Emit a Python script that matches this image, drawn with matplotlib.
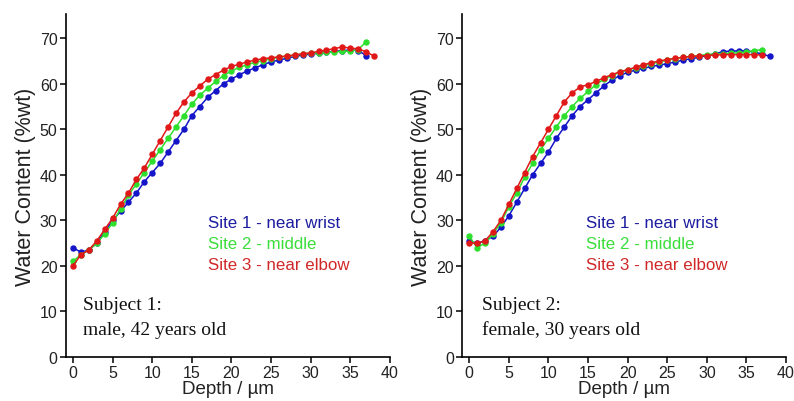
import matplotlib.pyplot as plt
import numpy as np

# depth in um (1 um steps)
depth = np.arange(0, 39)

# Subject 1: male, 42 years old
s1_site1 = [24.0, 23.0, 23.5, 25.0, 27.5, 30.0, 32.0, 34.0, 36.0, 38.5,
            40.5, 42.5, 45.0, 47.5, 50.0, 53.0, 55.0, 57.0, 58.5, 60.0,
            61.0, 62.0, 62.8, 63.5, 64.2, 64.8, 65.2, 65.6, 66.0, 66.3,
            66.5, 66.7, 66.9, 67.1, 67.3, 67.4, 67.3, 66.2]
s1_site2 = [21.0, 22.5, 23.5, 25.0, 27.0, 29.5, 32.5, 35.5, 38.0, 40.5,
            43.0, 45.5, 48.0, 50.5, 53.0, 55.5, 57.5, 59.0, 60.5, 61.8,
            62.8, 63.6, 64.2, 64.7, 65.1, 65.5, 65.8, 66.1, 66.3, 66.5,
            66.7, 66.8, 66.9, 67.0, 67.1, 67.2, 67.5, 69.2]
s1_site3 = [20.0, 22.5, 23.5, 25.5, 28.0, 30.5, 33.5, 36.0, 39.0, 41.5,
            44.5, 47.5, 50.5, 53.5, 56.0, 58.0, 59.5, 61.0, 62.0, 63.0,
            63.8, 64.3, 64.8, 65.2, 65.5, 65.7, 65.9, 66.1, 66.3, 66.6,
            66.8, 67.1, 67.4, 67.7, 68.1, 67.8, 67.7, 67.0, 66.1]

# Subject 2: female, 30 years old
s2_site1 = [25.5, 25.0, 25.5, 26.5, 28.5, 31.0, 34.0, 37.0, 40.0, 42.5,
            45.0, 48.0, 50.5, 53.0, 55.0, 56.5, 58.0, 59.5, 60.8, 61.8,
            62.5, 63.0, 63.4, 63.8, 64.1, 64.4, 64.8, 65.2, 65.5, 65.8,
            66.2, 66.6, 67.0, 67.2, 67.2, 67.2, 67.0, 66.5, 66.0]
s2_site2 = [26.5, 24.0, 25.0, 27.0, 29.5, 33.0, 36.0, 39.5, 42.5, 45.5,
            48.0, 50.5, 53.0, 55.0, 56.8, 58.3, 59.8, 61.0, 61.8, 62.5,
            63.0, 63.5, 64.0, 64.4, 64.8, 65.2, 65.5, 65.8, 66.0, 66.2,
            66.4, 66.5, 66.6, 66.7, 66.8, 66.9, 67.3, 67.5]
s2_site3 = [25.0, 25.0, 25.5, 27.5, 30.0, 33.5, 37.0, 40.5, 44.0, 47.0,
            50.0, 53.0, 56.0, 58.0, 59.3, 59.8, 60.5, 61.3, 62.0, 62.6,
            63.1, 63.6, 64.2, 64.6, 65.0, 65.3, 65.6, 65.8, 66.0, 66.1,
            66.2, 66.3, 66.4, 66.4, 66.4, 66.4, 66.4, 66.3]

site_labels = ['Site 1 - near wrist', 'Site 2 - middle', 'Site 3 - near elbow']
line_colors = ['#1414c8', '#2ee02e', '#e01818']
text_colors = ['#1c1ca0', '#3ade3a', '#d02828']

subjects = [
    ([s1_site1, s1_site2, s1_site3], 'Subject 1:', 'male, 42 years old', 17.0, 1.3),
    ([s2_site1, s2_site2, s2_site3], 'Subject 2:', 'female, 30 years old', 14.8, 1.6),
]

fig = plt.figure(figsize=(7.94, 4.02), dpi=100)
axes_pos = [[0.083, 0.1095, 0.408, 0.853], [0.582, 0.1095, 0.408, 0.853]]

for pos, (series, subj, desc, leg_x, subj_x) in zip(axes_pos, subjects):
    ax = fig.add_axes(pos)
    for vals, c in zip(series, line_colors):
        ax.plot(depth[:len(vals)], vals, '-o', color=c, lw=1.1, ms=3.6,
                mec=c, mfc=c)
    ax.set_xlim(-0.9, 40)
    ax.set_ylim(0, 75.3)
    ax.set_xticks(range(0, 41, 5))
    ax.set_yticks(range(0, 71, 10))
    for s in ['top', 'right']:
        ax.spines[s].set_visible(False)
    for s in ['left', 'bottom']:
        ax.spines[s].set_linewidth(1.2)
    ax.tick_params(length=4, width=1.1, labelsize=11.5, labelcolor='#222222',
                   pad=2)
    for lbl in ax.get_xticklabels() + ax.get_yticklabels():
        lbl.set_family('Liberation Sans')
    ax.set_xlabel('Depth / µm', fontsize=13.5, family='Liberation Sans',
                  color='#222222', labelpad=0)
    ax.set_ylabel('Water Content (%wt)', fontsize=15.5, family='Liberation Sans',
                  color='#222222', labelpad=3)
    for i, (lab, tc) in enumerate(zip(site_labels, text_colors)):
        ax.text(leg_x, 29.6 - 4.6 * i, lab, color=tc, fontsize=12.2,
                family='Liberation Sans', va='center', ha='left')
    ax.text(subj_x, 11.6, subj, fontsize=14, family='Liberation Serif',
            va='center', ha='left', color='#111111')
    ax.text(subj_x, 6.1, desc, fontsize=14, family='Liberation Serif',
            va='center', ha='left', color='#111111')

fig.savefig('out.png', dpi=100)
